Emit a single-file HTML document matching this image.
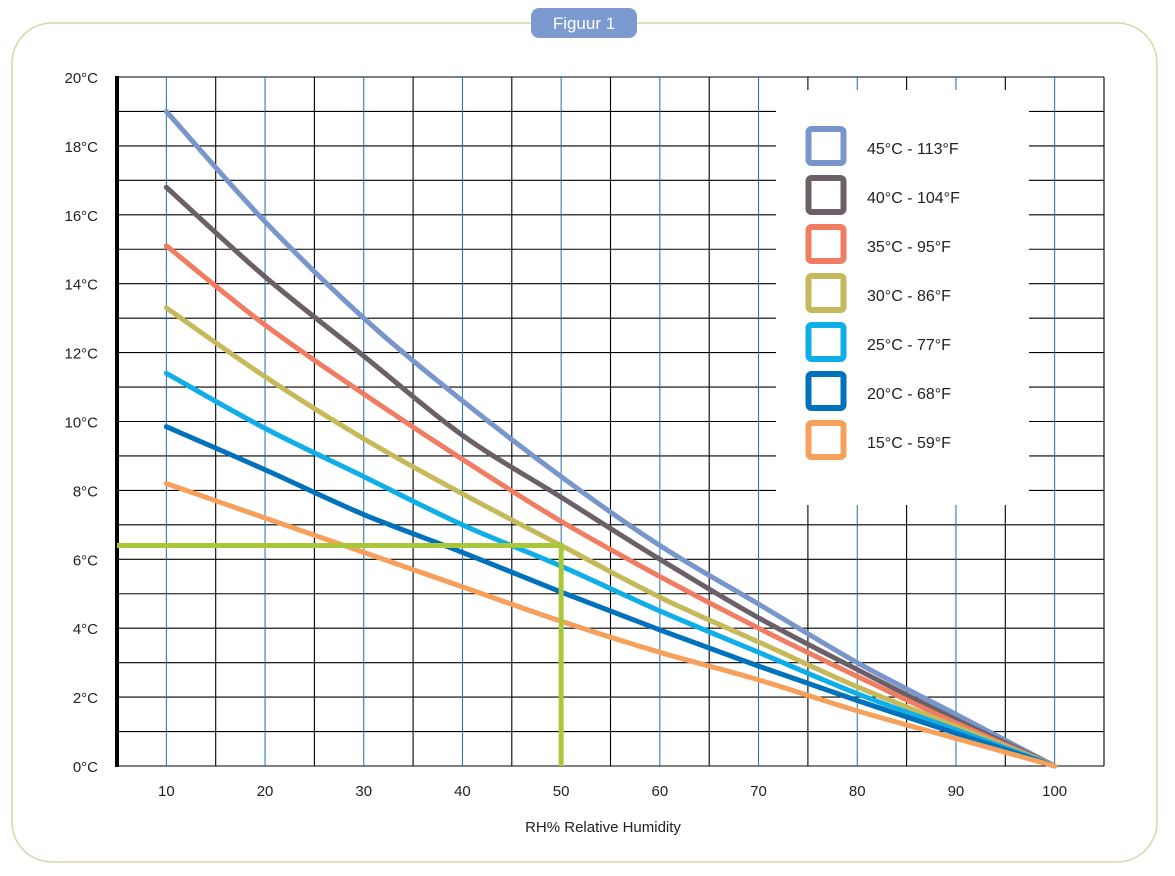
<!DOCTYPE html>
<html><head><meta charset="utf-8"><style>
body{margin:0;background:#fff;font-family:"Liberation Sans",sans-serif}
svg text{font-family:"Liberation Sans",sans-serif;fill:#222}
</style></head><body>
<svg width="1175" height="871" viewBox="0 0 1175 871">
<rect x="12" y="23" width="1145" height="839" rx="40" fill="#fff" stroke="#d9d6a8" stroke-width="1.5"/>
<rect x="531" y="8" width="106" height="30" rx="8" fill="#7b9bd0"/>
<text x="584" y="29" text-anchor="middle" font-size="17" style="fill:#fff">Figuur 1</text>
<g id="grid"></g>
<g id="lines"></g>
<g id="legend"></g>
<g id="labels"></g>
<text x="603" y="832" text-anchor="middle" font-size="15">RH% Relative Humidity</text>
</svg>
<script>
const rh=[10,20,30,40,50,60,70,80,90,100];
const s45=[19.0,15.8,13.0,10.6,8.4,6.4,4.7,3.0,1.5,0];
const s40=[16.8,14.2,11.9,9.6,7.8,6.0,4.3,2.8,1.35,0];
const s35=[15.1,12.8,10.8,8.9,7.1,5.5,4.0,2.6,1.25,0];
const s30=[13.3,11.3,9.5,7.9,6.4,4.9,3.6,2.3,1.15,0];
const s25=[11.4,9.8,8.4,7.0,5.8,4.5,3.3,2.1,1.05,0];
const s20=[9.85,8.6,7.3,6.2,5.05,3.95,2.9,1.9,0.95,0];
const s15=[8.2,7.2,6.2,5.2,4.2,3.3,2.5,1.6,0.8,0];
const seriesNames=["45°C - 113°F","40°C - 104°F","35°C - 95°F","30°C - 86°F","25°C - 77°F","20°C - 68°F","15°C - 59°F"];
const xTicks=[10,20,30,40,50,60,70,80,90,100];
const yTicks=[0,2,4,6,8,10,12,14,16,18,20];
const markRH=50, markT=6.4;
const NS="http://www.w3.org/2000/svg";
const X=v=>117+(v-5)*9.87;
const Y=v=>766-v*34.45;
function mk(tag,attrs,parent){const e=document.createElementNS(NS,tag);for(const k in attrs)e.setAttribute(k,attrs[k]);parent.appendChild(e);return e;}
function smooth(pts){let d=`M${pts[0][0]},${pts[0][1]}`;
for(let i=0;i<pts.length-1;i++){const p0=pts[i-1]||pts[i],p1=pts[i],p2=pts[i+1],p3=pts[i+2]||p2;
const c1=[p1[0]+(p2[0]-p0[0])/6,p1[1]+(p2[1]-p0[1])/6],c2=[p2[0]-(p3[0]-p1[0])/6,p2[1]-(p3[1]-p1[1])/6];
d+=` C${c1[0]},${c1[1]} ${c2[0]},${c2[1]} ${p2[0]},${p2[1]}`;}return d;}
const grid=document.getElementById('grid');
for(let t=0;t<=20;t++){const l=mk('line',{x1:X(5),x2:X(105),y1:Y(t),y2:Y(t),stroke:'#000','stroke-width':1.1},grid);

}
for(let v=10;v<=105;v+=5){const blue=v%10===0;const l=mk('line',{x1:X(v),x2:X(v),y1:Y(20),y2:Y(0),stroke:blue?'#1f6fae':'#000','stroke-width':blue?1:1.1},grid);

}
const ax=mk('line',{x1:X(5),x2:X(5),y1:Y(20)-1,y2:Y(0)+1,stroke:'#000','stroke-width':4},grid);


const colors=['#7896cc','#6b6068','#f07c62','#c6b95a','#0faee8','#0072bb','#f7a05c'];
const all=[s45,s40,s35,s30,s25,s20,s15];
const lines=document.getElementById('lines');
all.forEach((s,i)=>{const p=mk('path',{d:smooth(s.map((v,j)=>[X(rh[j]),Y(v)])),fill:'none',stroke:colors[i],'stroke-width':5,'stroke-linejoin':'round','stroke-linecap':'round'},lines);

});
const g=mk('polyline',{points:`${X(5)},${Y(markT)} ${X(markRH)},${Y(markT)} ${X(markRH)},${Y(0)}`,fill:'none',stroke:'#a8c83a','stroke-width':5},lines);


const lg=document.getElementById('legend');
const bg=mk('rect',{x:776,y:90,width:253,height:415,fill:'#fff'},lg);


seriesNames.forEach((n,i)=>{const y=129+i*49;
const r=mk('rect',{x:808.5,y:y,width:35,height:34,rx:3,fill:'none',stroke:colors[i],'stroke-width':6},lg);


const t=mk('text',{x:867,y:y+25,'font-size':16},lg);t.textContent=n;

});
const lb=document.getElementById('labels');
yTicks.forEach(v=>{const t=mk('text',{x:98,y:Y(v)+6,'text-anchor':'end','font-size':15},lb);t.textContent=v+'°C';

});
xTicks.forEach(v=>{const t=mk('text',{x:X(v),y:796,'text-anchor':'middle','font-size':15},lb);t.textContent=v;

});
</script>
</body></html>
